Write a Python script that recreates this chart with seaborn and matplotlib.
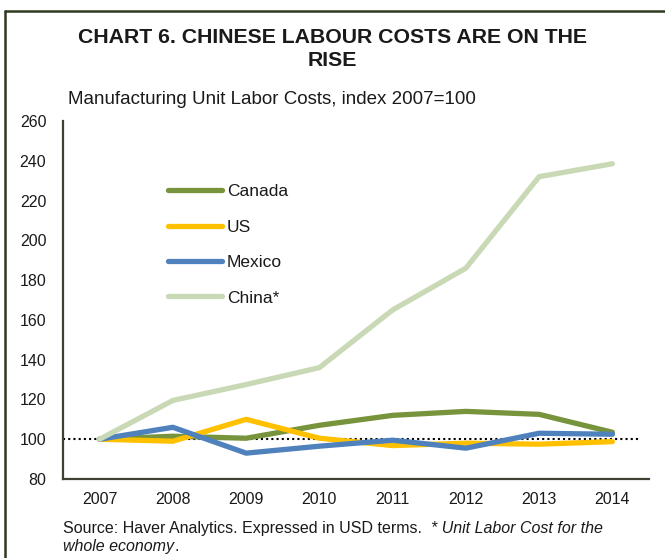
import matplotlib
matplotlib.use("Agg")
import matplotlib.pyplot as plt
import seaborn as sns
import pandas as pd
from matplotlib.lines import Line2D

# ---- data ----
years = ["2007", "2008", "2009", "2010", "2011", "2012", "2013", "2014"]
canada = [100, 101.5, 100.5, 107, 112, 114, 112.5, 103.5]
us = [100, 99, 110, 100.5, 96.8, 98, 97.5, 98.8]
mexico = [100, 106, 93, 96.5, 99.5, 95.5, 103, 102.5]
china = [100, 119.5, 127.5, 136, 165, 186, 232, 238.5]
series_names = ["Canada", "US", "Mexico", "China*"]
y_ticks = [80, 100, 120, 140, 160, 180, 200, 220, 240, 260]

title = "CHART 6. CHINESE LABOUR COSTS ARE ON THE\nRISE"
subtitle = "Manufacturing Unit Labor Costs, index 2007=100"

rows = []
for name, vals in zip(series_names, [canada, us, mexico, china]):
    for yr, v in zip(years, vals):
        rows.append({"Year": yr, "Index": v, "Series": name})
df = pd.DataFrame(rows)

colors = {"Canada": "#77933C", "US": "#FFC000", "Mexico": "#4F81BD", "China*": "#C9D8B5"}

sns.set_style("white")
plt.rcParams["font.family"] = ["Liberation Sans", "DejaVu Sans"]
txt = "#1a1a1a"
spine_c = "#3d4233"

fig = plt.figure(figsize=(6.65, 5.58), dpi=100)
ax = fig.add_axes([63 / 665, 1 - 479 / 558, (649 - 63) / 665, (479 - 121) / 558])

sns.lineplot(data=df, x="Year", y="Index", hue="Series", hue_order=series_names,
             palette=colors, linewidth=3.8, sort=False, ax=ax,
             solid_capstyle="round", legend=False)

ax.set_xlim(-0.5, 7.5)
ax.set_ylim(80, 260)
ax.set_yticks(y_ticks)
ax.set_xlabel("")
ax.set_ylabel("")
ax.tick_params(axis="both", length=0, labelsize=11.5, colors=txt)
ax.tick_params(axis="y", pad=12)
ax.tick_params(axis="x", pad=9)
for s in ["top", "right"]:
    ax.spines[s].set_visible(False)
for s in ["left", "bottom"]:
    ax.spines[s].set_color(spine_c)
    ax.spines[s].set_linewidth(1.6)

ax.axhline(100, xmin=0, xmax=(640 - 63) / (649 - 63), color="black",
           linestyle=(0, (1, 1.5)), linewidth=1.5, zorder=1)

handles = [Line2D([0], [0], color=colors[n], lw=3.8, solid_capstyle="round") for n in series_names]
leg = ax.legend(handles, series_names, loc="upper left",
                bbox_to_anchor=(168 / 665, 1 - 184 / 558), bbox_transform=fig.transFigure,
                frameon=False, fontsize=12.5, handlelength=3.1, handletextpad=0.3,
                labelspacing=1.17, borderpad=0, borderaxespad=0)
for t in leg.get_texts():
    t.set_color(txt)

fig.text(0.5, 1 - 28 / 558, title, ha="center", va="top", fontsize=15.3,
         fontweight="bold", color=txt, linespacing=1.3)
fig.text(68 / 665, 1 - 100 / 558, subtitle, ha="left", va="center", fontsize=13.5, color=txt)

t1 = fig.text(63 / 665, 1 - 533 / 558, "Source: Haver Analytics. Expressed in USD terms.  ",
              ha="left", va="baseline", fontsize=11.5, color=txt)
t2 = ax.annotate("* Unit Labor Cost for the", xy=(1, 0), xycoords=t1, ha="left",
                 va="bottom", fontsize=11.5, color=txt, style="italic",
                 annotation_clip=False)
t3 = fig.text(63 / 665, 1 - 551 / 558, "whole economy", ha="left", va="baseline",
              fontsize=11.5, color=txt, style="italic")
ax.annotate(".", xy=(1, 0), xycoords=t3, ha="left", va="bottom", fontsize=11.5,
            color=txt, annotation_clip=False)

# outer frame (top and left edges)
frame_c = "#2F3B20"
fig.add_artist(Line2D([5 / 665, 1], [1 - 11 / 558, 1 - 11 / 558], transform=fig.transFigure,
                      color=frame_c, lw=1.8))
fig.add_artist(Line2D([5 / 665, 5 / 665], [0, 1 - 11 / 558], transform=fig.transFigure,
                      color=frame_c, lw=1.8))

fig.savefig("out.png", dpi=100)
